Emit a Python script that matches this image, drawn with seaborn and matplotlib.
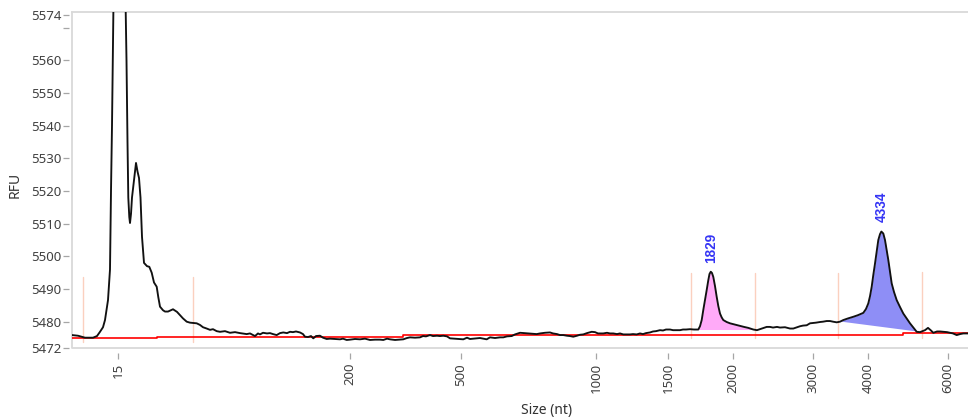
import numpy as np
import pandas as pd
import matplotlib
matplotlib.use("Agg")
import matplotlib.pyplot as plt
import seaborn as sns

# ---- size ladder: migration time (s) of each sizing standard ----
ladder_size = [15, 200, 500, 1000, 1500, 2000, 3000, 4000, 6000]
ladder_time = [11.80, 35.00, 46.10, 59.60, 66.80, 73.30, 81.30, 86.80, 94.80]

# ---- electropherogram trace (migration time s, RFU) ----
trace_time = [
    7.20, 7.80, 8.50, 9.30, 9.70, 10.00, 10.30, 10.50, 10.80, 11.00,
    11.10, 11.20, 11.33, 11.60, 11.90, 12.25, 12.57, 12.65, 12.75, 12.83,
    12.93, 13.00, 13.10, 13.20, 13.35, 13.60, 13.75, 13.90, 14.05, 14.20,
    14.40, 14.70, 14.93, 15.17, 15.40, 15.67, 15.83, 16.00, 16.30, 16.50,
    16.80, 17.30, 17.70, 18.00, 18.30, 18.67, 19.00, 19.67, 20.00, 20.30,
    20.67, 21.00, 21.30, 21.67, 22.00, 22.50, 23.00, 23.50, 24.00, 24.67,
    25.00, 25.50, 25.80, 26.00, 26.30, 26.70, 27.00, 27.30, 27.67, 28.00,
    28.33, 28.70, 29.00, 29.30, 29.60, 30.00, 30.30, 30.50, 30.80, 31.10,
    31.33, 31.60, 32.00, 32.30, 32.67, 33.00, 33.50, 34.00, 34.30, 34.67,
    35.00, 35.50, 36.00, 36.50, 37.00, 37.50, 38.00, 38.33, 38.70, 39.00,
    39.50, 40.00, 40.33, 40.70, 41.00, 41.50, 42.00, 42.30, 42.60, 43.00,
    43.30, 43.70, 44.00, 44.33, 44.70, 45.00, 45.50, 46.00, 46.33, 46.70,
    47.00, 47.67, 48.00, 48.67, 49.00, 49.50, 50.00, 50.33, 50.70, 51.17,
    51.50, 52.00, 52.40, 52.80, 53.20, 53.67, 54.00, 54.50, 55.00, 55.30,
    55.70, 56.00, 56.33, 56.70, 57.00, 57.33, 57.70, 58.00, 58.33, 58.70,
    59.17, 59.50, 59.80, 60.33, 60.70, 61.00, 61.33, 61.70, 62.00, 62.33,
    62.70, 63.00, 63.30, 63.67, 64.00, 64.30, 64.60, 65.00, 65.30, 65.60,
    66.00, 66.30, 66.60, 67.00, 67.30, 67.60, 68.00, 68.30, 68.60, 69.00,
    69.40, 69.83, 70.00, 70.17, 70.33, 70.50, 70.67, 70.83, 70.95, 71.20,
    71.33, 71.50, 71.67, 71.83, 72.00, 72.17, 72.33, 72.67, 73.00, 73.50,
    74.00, 74.40, 74.83, 75.33, 75.70, 76.17, 76.67, 77.00, 77.30, 77.70,
    78.00, 78.50, 79.00, 79.33, 79.70, 80.00, 80.30, 80.67, 81.00, 81.30,
    81.60, 82.00, 82.30, 82.67, 83.00, 83.30, 83.67, 84.00, 84.33, 84.80,
    85.33, 85.80, 86.33, 86.60, 86.83, 87.00, 87.17, 87.33, 87.50, 87.67,
    87.83, 88.00, 88.33, 88.50, 88.67, 88.83, 89.00, 89.17, 89.40, 89.67,
    90.00, 90.33, 90.67, 91.00, 91.33, 91.67, 92.00, 92.50, 92.80, 93.10,
    93.33, 93.70, 94.00, 94.33, 94.70, 95.00, 95.30, 95.67, 96.00, 96.33,
    96.80,
]
trace_rfu = [
    5475.9, 5475.7, 5475.1, 5475.1, 5475.6, 5476.9, 5478.3, 5480.5, 5486.6, 5496.0,
    5520.0, 5540.0, 5575.0, 5620.0, 5640.0, 5620.0, 5575.0, 5560.0, 5535.0, 5518.0,
    5512.0, 5510.2, 5513.0, 5518.0, 5522.0, 5528.6, 5526.0, 5524.0, 5518.0, 5506.0,
    5498.0, 5497.0, 5496.8, 5495.0, 5492.0, 5490.7, 5487.5, 5484.6, 5483.5, 5483.1,
    5483.1, 5483.8, 5483.0, 5482.0, 5481.0, 5480.0, 5479.7, 5479.5, 5479.0, 5478.3,
    5477.9, 5477.5, 5477.7, 5477.1, 5476.9, 5477.1, 5476.6, 5476.8, 5476.5, 5476.2,
    5476.4, 5475.6, 5476.4, 5476.1, 5476.6, 5476.4, 5476.5, 5476.2, 5475.9, 5476.5,
    5476.7, 5476.5, 5476.9, 5476.8, 5477.0, 5476.7, 5476.2, 5475.4, 5475.3, 5475.6,
    5474.9, 5475.6, 5475.7, 5475.1, 5474.7, 5474.8, 5474.7, 5474.6, 5474.8, 5474.4,
    5474.5, 5474.7, 5474.6, 5474.8, 5474.4, 5474.5, 5474.5, 5474.4, 5474.8, 5474.6,
    5474.4, 5474.5, 5474.6, 5475.0, 5475.2, 5475.1, 5475.2, 5475.6, 5475.5, 5475.9,
    5475.6, 5475.7, 5475.6, 5475.7, 5475.5, 5474.9, 5474.8, 5474.7, 5474.6, 5475.1,
    5474.7, 5474.9, 5475.0, 5474.6, 5475.2, 5475.0, 5475.2, 5475.2, 5475.5, 5475.6,
    5476.1, 5476.6, 5476.5, 5476.4, 5476.3, 5476.2, 5476.4, 5476.6, 5476.7, 5476.4,
    5476.2, 5475.9, 5475.9, 5475.7, 5475.6, 5475.4, 5475.7, 5476.0, 5476.1, 5476.5,
    5476.9, 5476.8, 5476.4, 5476.4, 5476.6, 5476.4, 5476.4, 5476.2, 5476.4, 5476.1,
    5476.1, 5476.1, 5476.2, 5476.1, 5476.4, 5476.2, 5476.5, 5476.7, 5477.0, 5477.1,
    5477.4, 5477.3, 5477.6, 5477.6, 5477.4, 5477.4, 5477.4, 5477.6, 5477.6, 5477.7,
    5477.6, 5477.6, 5478.6, 5480.5, 5483.6, 5486.6, 5489.7, 5492.7, 5494.6, 5494.9,
    5493.7, 5490.9, 5487.6, 5484.8, 5482.5, 5481.3, 5480.5, 5479.9, 5479.5, 5479.1,
    5478.7, 5478.4, 5478.1, 5477.6, 5477.4, 5477.9, 5478.4, 5478.4, 5478.2, 5478.4,
    5478.2, 5478.3, 5477.9, 5477.9, 5478.3, 5478.6, 5478.8, 5478.9, 5479.5, 5479.6,
    5479.7, 5479.9, 5480.0, 5480.2, 5480.2, 5480.0, 5479.8, 5480.0, 5480.5, 5481.0,
    5481.5, 5482.0, 5482.7, 5483.9, 5485.6, 5487.8, 5490.7, 5494.3, 5497.8, 5501.6,
    5505.0, 5506.8, 5507.0, 5505.0, 5501.9, 5498.9, 5495.2, 5491.7, 5489.1, 5486.6,
    5484.5, 5482.5, 5481.0, 5479.5, 5478.2, 5476.9, 5476.8, 5477.4, 5478.1, 5477.3,
    5476.6, 5477.0, 5477.0, 5476.9, 5476.8, 5476.6, 5476.4, 5475.9, 5476.2, 5476.4,
    5476.4,
]

# ---- called peaks (size in nt, apex RFU) ----
peak_size = [1829, 4334]
peak_rfu = [5495.3, 5507.6]
peak_color = ["#ffaaf8", "#8e8ef6"]
# integration windows (migration time s)
peak_start = [69.83, 84.10]
peak_end = [75.33, 91.60]

# ---- fitted baseline (step) ----
base_time = [7.20, 15.70, 40.30, 65.30, 90.30, 96.80]
base_rfu = [5474.9, 5475.2, 5475.8, 5476.0, 5476.4, 5476.4]

# ---- region boundary markers ----
marker_time = [8.30, 19.30, 69.10, 75.50, 83.80, 92.20]
marker_lo = [5473.8, 5473.8, 5475.0, 5475.0, 5475.0, 5475.0]
marker_hi = [5493.7, 5493.7, 5494.9, 5494.9, 5494.9, 5495.2]

# ---- axis ticks ----
ytick_vals = [5472, 5480, 5490, 5500, 5510, 5520, 5530, 5540, 5550, 5560, 5570, 5574]
ytick_text = ["5472", "5480", "5490", "5500", "5510", "5520", "5530", "5540",
              "5550", "5560", "", "5574"]

# place peak apexes at the migration time of their called size
peak_time = list(np.interp(peak_size, ladder_size, ladder_time))
trace = pd.DataFrame({"time": trace_time + peak_time, "rfu": trace_rfu + peak_rfu})
trace = trace.sort_values("time").reset_index(drop=True)

sns.set_theme(style="white")
plt.rcParams["font.family"] = ["Noto Sans", "DejaVu Sans"]

fig = plt.figure(figsize=(9.68, 4.18), dpi=100)
ax = fig.add_axes([71.7 / 968, 1 - 348.3 / 418, 1 - 71.7 / 968, (348.3 - 11.7) / 418])

# ticks sit slightly away from the frame (set before tick labels: this resets them)
ax.spines["left"].set_position(("outward", 2.0))
ax.spines["bottom"].set_position(("outward", 3.4))
for side in ["left", "bottom", "right"]:
    ax.spines[side].set_visible(False)
ax.spines["top"].set_color("#d9d9d9")
ax.spines["top"].set_linewidth(1.3)
ax.plot([0, 0, 1.0], [1, 0, 0], transform=ax.transAxes, color="#d9d9d9",
        lw=1.3, clip_on=False, zorder=0)

# boundary markers
for t, lo, hi in zip(marker_time, marker_lo, marker_hi):
    ax.plot([t, t], [lo, hi], color="#fbd0bf", lw=1.0, zorder=1)

# shaded peak areas above a straight baseline drawn between window ends
tt = trace["time"].to_numpy()
rr = trace["rfu"].to_numpy()
for s, e, c in zip(peak_start, peak_end, peak_color):
    m = (tt >= s) & (tt <= e)
    xs = np.concatenate([[s], tt[m], [e]])
    ys = np.interp(xs, tt, rr)
    y0, y1 = np.interp([s, e], tt, rr)
    bl = y0 + (y1 - y0) * (xs - s) / (e - s)
    ax.fill_between(xs, bl, ys, color=c, lw=0, zorder=2)

# baseline
ax.step(base_time, base_rfu, where="post", color="#ff0000", lw=1.2, zorder=3)

# signal
sns.lineplot(data=trace, x="time", y="rfu", ax=ax, color="#111111", lw=1.35,
             estimator=None, sort=True, zorder=4)

# peak size labels
for t, v, s in zip(peak_time, peak_rfu, peak_size):
    ax.annotate(str(s), xy=(t, v), xytext=(0, 6.5), textcoords="offset points",
                rotation=90, ha="center", va="bottom", fontsize=9.8,
                fontweight="bold", color="#3535f5", family=["Liberation Sans", "DejaVu Sans"])

ax.set_xlim(7.17, 96.8)
ax.set_ylim(5471.85, 5574.9)
ax.set_xticks(ladder_time)
ax.set_xticklabels([str(s) for s in ladder_size])
ax.set_yticks(ytick_vals)
ax.set_yticklabels(ytick_text)

ax.tick_params(axis="both", which="major", direction="out", length=4.1, width=0.9,
               color="#a6a6a6", labelcolor="#404040", labelsize=9.5)
ax.tick_params(axis="x", pad=3.0, bottom=True, labelrotation=90)
ax.tick_params(axis="y", pad=1.1, left=True)

ax.set_xlabel("Size (nt)", fontsize=10, color="#333333")
ax.set_ylabel("RFU", fontsize=10, color="#333333")
ax.xaxis.set_label_coords((547 - 71.7) / 896.3, (348.3 - 403.0) / 336.6)
ax.yaxis.set_label_coords((23 - 71.7) / 896.3, (348.3 - 184.5) / 336.6)

fig.savefig("out.png", dpi=100)
